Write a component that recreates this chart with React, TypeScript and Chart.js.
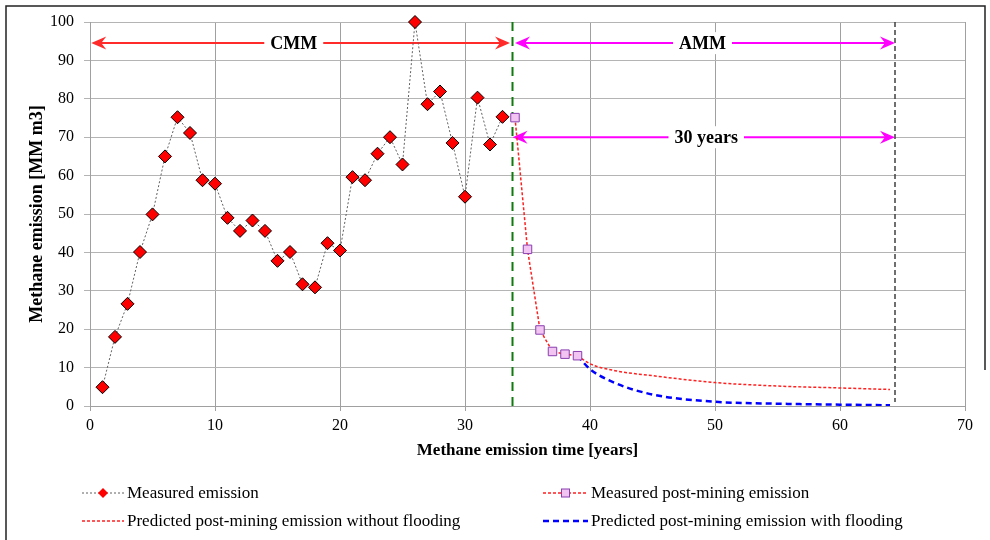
import React, { useEffect, useRef } from 'react';
import { Chart, registerables } from 'chart.js';

Chart.register(...registerables);

// ---- data ----
const measuredYears = [1, 2, 3, 4, 5, 6, 7, 8, 9, 10, 11, 12, 13, 14, 15, 16, 17, 18, 19, 20, 21, 22, 23, 24, 25, 26, 27, 28, 29, 30, 31, 32, 33];
const measuredValues = [4.9, 18.0, 26.6, 40.1, 49.9, 65.0, 75.2, 71.1, 58.8, 57.9, 49.0, 45.6, 48.3, 45.6, 37.8, 40.1, 31.7, 30.9, 42.4, 40.5, 59.6, 58.8, 65.7, 70.0, 62.9, 100.0, 78.6, 81.9, 68.5, 54.5, 80.3, 68.1, 75.3];
const postYears = [34, 35, 36, 37, 38, 39];
const postValues = [75.1, 40.8, 19.8, 14.2, 13.5, 13.1];
const predYears = [39, 40, 42, 45, 50, 55, 60, 64];
const predNoFlood = [13.1, 11.0, 9.2, 7.9, 6.1, 5.2, 4.7, 4.3];
const predFlood = [13.1, 9.6, 6.0, 3.0, 1.1, 0.6, 0.35, 0.2];

const seriesLabels = [
  'Measured emission',
  'Measured post-mining emission',
  'Predicted post-mining emission without flooding',
  'Predicted post-mining emission with flooding',
];

const xMin = 0, xMax = 70, xStep = 10;
const yMin = 0, yMax = 100, yStep = 10;
const xTitle = 'Methane emission time [years]';
const yTitle = 'Methane emission [MM m3]';

// annotation values (data units)
const miningEndYear = 33.8;
const horizonYear = 64.4;
const cmmFrom = 0.1, cmmTo = 33.6, cmmY = 94.5, cmmLabelX = 16.3, cmmLabel = 'CMM';
const ammFrom = 34.0, ammTo = 64.4, ammY = 94.5, ammLabelX = 49.0, ammLabel = 'AMM';
const yrsFrom = 33.8, yrsTo = 64.4, yrsY = 70, yrsLabelX = 49.3, yrsLabel = '30 years';

const SERIF = "'Liberation Serif', 'Times New Roman', serif";

const toPts = (xs: number[], ys: number[]) => xs.map((x, i) => ({ x, y: ys[i] }));

function arrowHead(ctx: CanvasRenderingContext2D, x: number, y: number, dir: number) {
  const L = 15, W = 6.5, notch = 5;
  ctx.beginPath();
  ctx.moveTo(x, y);
  ctx.lineTo(x - dir * L, y - W);
  ctx.lineTo(x - dir * (L - notch), y);
  ctx.lineTo(x - dir * L, y + W);
  ctx.closePath();
  ctx.fill();
}

function drawArrow(chart: any, from: number, to: number, yv: number, label: string, lx: number, color: string) {
  const ctx = chart.ctx as CanvasRenderingContext2D;
  const xs = chart.scales.x, ys = chart.scales.y;
  const x1 = xs.getPixelForValue(from), x2 = xs.getPixelForValue(to);
  const y = ys.getPixelForValue(yv);
  const cx = xs.getPixelForValue(lx);
  ctx.save();
  ctx.strokeStyle = color;
  ctx.fillStyle = color;
  ctx.lineWidth = 2;
  ctx.setLineDash([]);
  ctx.beginPath();
  ctx.moveTo(x1 + 8, y);
  ctx.lineTo(x2 - 8, y);
  ctx.stroke();
  arrowHead(ctx, x1, y, -1);
  arrowHead(ctx, x2, y, 1);
  ctx.font = `bold 18px ${SERIF}`;
  const w = ctx.measureText(label).width;
  ctx.fillStyle = '#ffffff';
  ctx.fillRect(cx - w / 2 - 6, y - 11, w + 12, 22);
  ctx.fillStyle = '#000000';
  ctx.textAlign = 'center';
  ctx.textBaseline = 'middle';
  ctx.fillText(label, cx, y + 1);
  ctx.restore();
}

function vLine(chart: any, xv: number, color: string, width: number, dash: number[], yBottomPad: number) {
  const ctx = chart.ctx as CanvasRenderingContext2D;
  const area = chart.chartArea;
  const x = chart.scales.x.getPixelForValue(xv);
  ctx.save();
  ctx.strokeStyle = color;
  ctx.lineWidth = width;
  ctx.setLineDash(dash);
  ctx.beginPath();
  ctx.moveTo(x, area.top);
  ctx.lineTo(x, area.bottom - yBottomPad);
  ctx.stroke();
  ctx.restore();
}

const annotationPlugin = {
  id: 'annotations',
  beforeDatasetsDraw(chart: any) {
    vLine(chart, miningEndYear, '#107a10', 2, [9, 6], 0);
    vLine(chart, horizonYear, '#404040', 1.5, [5, 3], 4);
    drawArrow(chart, cmmFrom, cmmTo, cmmY, cmmLabel, cmmLabelX, '#ff2a2a');
    drawArrow(chart, ammFrom, ammTo, ammY, ammLabel, ammLabelX, '#ff00ff');
    drawArrow(chart, yrsFrom, yrsTo, yrsY, yrsLabel, yrsLabelX, '#ff00ff');
  },
  afterDraw(chart: any) {
    const ctx = chart.ctx as CanvasRenderingContext2D;
    ctx.save();
    // frame
    ctx.strokeStyle = '#222';
    ctx.lineWidth = 1.5;
    ctx.setLineDash([]);
    ctx.beginPath();
    ctx.moveTo(6, 540);
    ctx.lineTo(6, 6);
    ctx.lineTo(985, 6);
    ctx.lineTo(985, 370);
    ctx.stroke();

    // legend
    const ds = chart.data.datasets;
    const rows = [493, 521];
    const cols = [{ s: 82, e: 124, t: 127 }, { s: 543, e: 588, t: 591 }];
    const slots = [
      { c: 0, r: 0 }, { c: 1, r: 0 }, { c: 0, r: 1 }, { c: 1, r: 1 },
    ];
    slots.forEach((sl, i) => {
      const d = ds[i];
      const col = cols[sl.c];
      const y = rows[sl.r];
      ctx.strokeStyle = d.borderColor;
      ctx.lineWidth = d.borderWidth;
      ctx.setLineDash(d.borderDash || []);
      ctx.beginPath();
      ctx.moveTo(col.s, y);
      ctx.lineTo(col.e, y);
      ctx.stroke();
      ctx.setLineDash([]);
      const mx = (col.s + col.e) / 2;
      if (d.pointStyle === 'rectRot' && d.pointRadius > 0) {
        ctx.fillStyle = d.pointBackgroundColor;
        ctx.beginPath();
        ctx.moveTo(mx, y - 5); ctx.lineTo(mx + 5, y); ctx.lineTo(mx, y + 5); ctx.lineTo(mx - 5, y);
        ctx.closePath();
        ctx.fill();
      } else if (d.pointStyle === 'rect' && d.pointRadius > 0) {
        ctx.fillStyle = d.pointBackgroundColor;
        ctx.strokeStyle = d.pointBorderColor;
        ctx.lineWidth = 1;
        ctx.fillRect(mx - 4, y - 4, 8, 8);
        ctx.strokeRect(mx - 4, y - 4, 8, 8);
      }
      ctx.fillStyle = '#000';
      ctx.font = `17px ${SERIF}`;
      ctx.textAlign = 'left';
      ctx.textBaseline = 'middle';
      ctx.fillText(d.label, col.t, y + 1);
    });
    ctx.restore();
  },
};

export default function App() {
  const ref = useRef<HTMLCanvasElement | null>(null);
  useEffect(() => {
    if (!ref.current) return;
    const chart = new Chart(ref.current, {
      type: 'line',
      data: {
        datasets: [
          {
            label: seriesLabels[0],
            data: toPts(measuredYears, measuredValues),
            borderColor: '#606060',
            borderWidth: 1,
            borderDash: [2, 2],
            pointStyle: 'rectRot',
            pointRadius: 6.5,
            pointBackgroundColor: '#ff0000',
            pointBorderColor: '#000000',
            pointBorderWidth: 1,
            clip: false,
            order: 1,
          } as any,
          {
            label: seriesLabels[1],
            data: toPts(postYears, postValues),
            borderColor: '#ff2020',
            borderWidth: 1.5,
            borderDash: [3, 2],
            pointStyle: 'rect',
            pointRadius: 6,
            pointBackgroundColor: '#f2c4f2',
            pointBorderColor: '#8a3fb0',
            pointBorderWidth: 1,
            clip: false,
            order: 0,
          } as any,
          {
            label: seriesLabels[2],
            data: toPts(predYears, predNoFlood),
            borderColor: '#ff2020',
            borderWidth: 1.5,
            borderDash: [3, 2],
            pointRadius: 0,
            cubicInterpolationMode: 'monotone',
            order: 3,
          } as any,
          {
            label: seriesLabels[3],
            data: toPts(predYears, predFlood),
            borderColor: '#0000ff',
            borderWidth: 2.5,
            borderDash: [6, 4],
            pointRadius: 0,
            cubicInterpolationMode: 'monotone',
            order: 2,
          } as any,
        ],
      },
      options: {
        responsive: false,
        animation: false,
        layout: { padding: { left: 0, right: 25, top: 22, bottom: 74 } },
        plugins: { legend: { display: false }, tooltip: { enabled: false } },
        scales: {
          x: {
            type: 'linear',
            min: xMin,
            max: xMax,
            afterFit: (s: any) => { s.height = 60; },
            ticks: { stepSize: xStep, color: '#000', font: { family: SERIF, size: 16 }, padding: 5, maxRotation: 0 },
            grid: { color: '#a0a0a0', lineWidth: 1, tickLength: 5 },
            border: { color: '#a0a0a0' },
            title: { display: true, text: xTitle, color: '#000', font: { family: SERIF, size: 17, weight: 'bold' }, padding: { top: 0, bottom: 5 } },
          },
          y: {
            min: yMin,
            max: yMax,
            afterFit: (s: any) => { s.width = 90; },
            ticks: { stepSize: yStep, color: '#000', font: { family: SERIF, size: 16 }, padding: 10 },
            grid: { color: '#b4b4b4', lineWidth: 1, tickLength: 6 },
            border: { color: '#a0a0a0' },
            title: { display: true, text: yTitle, color: '#000', font: { family: SERIF, size: 18, weight: 'bold' }, padding: { top: 27, bottom: 0 } },
          },
        },
      } as any,
      plugins: [annotationPlugin],
    });
    return () => chart.destroy();
  }, []);
  return (
    <div style={{ position: 'absolute', left: 0, top: 0, width: 990, height: 540 }}>
      <canvas ref={ref} width={990} height={540} style={{ display: 'block' }} />
    </div>
  );
}
